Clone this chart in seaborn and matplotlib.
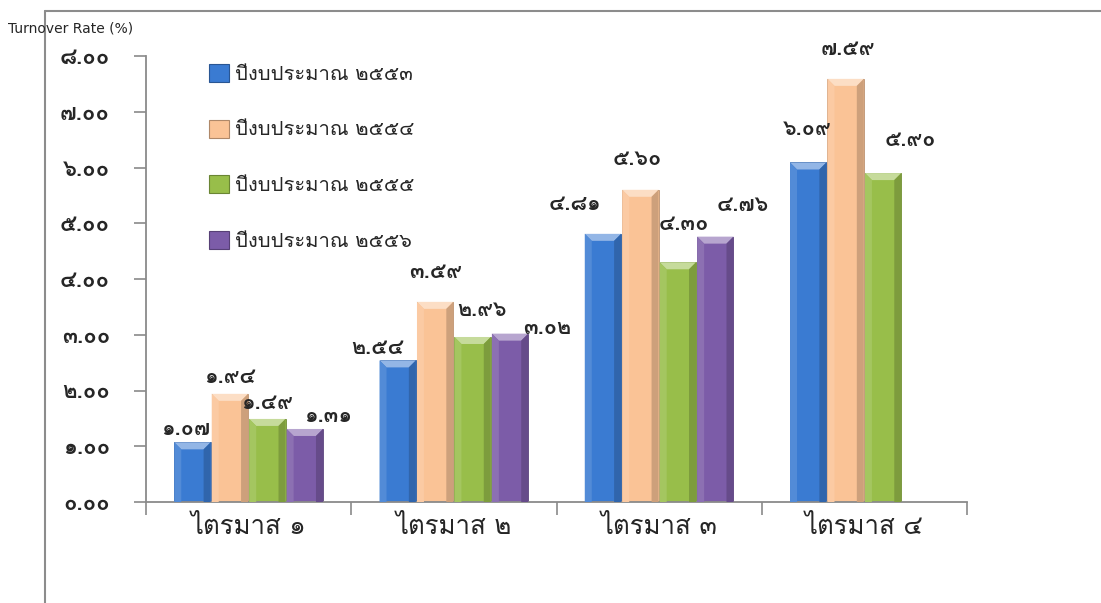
import numpy as np
import pandas as pd
import matplotlib
matplotlib.use("Agg")
import matplotlib.pyplot as plt
import matplotlib.colors as mcolors
import seaborn as sns
from matplotlib import font_manager
from matplotlib.ft2font import FT2Font
from matplotlib.patches import Polygon, Patch
from matplotlib.lines import Line2D

# ---- data -------------------------------------------------------------
quarters = ["ไตรมาส ๑", "ไตรมาส ๒", "ไตรมาส ๓", "ไตรมาส ๔"]
years = ["ปีงบประมาณ ๒๕๕๓", "ปีงบประมาณ ๒๕๕๔", "ปีงบประมาณ ๒๕๕๕", "ปีงบประมาณ ๒๕๕๖"]
rate_2553 = [1.07, 2.54, 4.81, 6.09]
rate_2554 = [1.94, 3.59, 5.60, 7.59]
rate_2555 = [1.49, 2.96, 4.30, 5.90]
rate_2556 = [1.31, 3.02, 4.76, np.nan]
y_ticks = [0, 1, 2, 3, 4, 5, 6, 7, 8]
y_title = "Turnover Rate (%)"

series = [rate_2553, rate_2554, rate_2555, rate_2556]
colors = ["#3A7BD2", "#FAC396", "#98BE4A", "#7C5CA8"]

# label offsets (pixels) from the top-centre of each bar
label_offsets = [
    [(-7, 13), (-20, 12), (-28, 30), (-1, 33)],
    [(0, 17), (0, 30), (-3, 31), (2, 30)],
    [(0, 16), (9, 27), (6, 38), (27, 33)],
    [(23, 13), (37, 6), (27, 32), (0, 0)],
]

THAI_DIGITS = str.maketrans("0123456789", "๐๑๒๓๔๕๖๗๘๙")


def thai_num(v):
    return f"{v:.2f}".translate(THAI_DIGITS)


def thai_font():
    preferred = ["Tahoma", "Leelawadee UI", "Leelawadee", "Loma", "Garuda",
                 "Noto Sans Thai", "Noto Sans Thai UI", "Waree", "Norasi",
                 "Kinnari", "Umpush", "Sawasdee", "Laksaman", "Tlwg Typo"]
    found = set()
    for fe in font_manager.fontManager.ttflist:
        try:
            cmap = FT2Font(fe.fname).get_charmap()
        except Exception:
            continue
        if 0x0E1B in cmap and 0x0E54 in cmap:
            found.add(fe.name)
    for name in preferred:
        if name in found:
            return name
    return sorted(found)[0] if found else None


sns.set_theme(style="white")
tf = thai_font()
families = ([tf] if tf else []) + ["DejaVu Sans"]
plt.rcParams["font.family"] = families

rows = []
for year, vals in zip(years, series):
    for q, v in zip(quarters, vals):
        rows.append({"quarter": q, "year": year, "rate": v})
df = pd.DataFrame(rows)

W, H = 1101, 603
fig = plt.figure(figsize=(W / 100, H / 100), dpi=100)
ax = fig.add_axes([146 / W, 1 - 502 / H, (967 - 146) / W, (502 - 56) / H])

sns.barplot(data=df, x="quarter", y="rate", hue="year", order=quarters,
            hue_order=years, palette=colors, width=0.73, gap=0.03,
            saturation=1, errorbar=None, legend=False, ax=ax)

ax.set_xlim(-0.5, 3.5)
ax.set_ylim(0, 8)
ax.set_xlabel("")
ax.set_ylabel("")

axis_grey = "#8A8A8A"
sns.despine(ax=ax)
for side in ("left", "bottom"):
    ax.spines[side].set_color(axis_grey)
    ax.spines[side].set_linewidth(1.3)

ax.set_yticks(y_ticks)
ax.set_yticklabels([thai_num(v) for v in y_ticks], fontsize=16,
                   fontweight="bold")
ax.tick_params(axis="y", left=True, length=9, width=1.2, color=axis_grey,
               pad=17, direction="out")

ax.set_xticks(np.arange(-0.5, len(quarters), 1.0))
ax.set_xticklabels([])
ax.set_xticks(np.arange(len(quarters)), minor=True)
ax.set_xticklabels(quarters, minor=True, fontsize=18.5)
ax.tick_params(axis="x", which="major", bottom=True, length=9, width=1.2,
               color=axis_grey, direction="out")
ax.tick_params(axis="x", which="minor", bottom=True, length=0, pad=9.5)


def shade(c, f):
    r, g, b = mcolors.to_rgb(c)
    if f >= 0:
        return (r + (1 - r) * f, g + (1 - g) * f, b + (1 - b) * f)
    return (r * (1 + f), g * (1 + f), b * (1 + f))


# bevelled faces on every bar
to_px = ax.transData
px_x = to_px.transform((1, 0))[0] - to_px.transform((0, 0))[0]
px_y = to_px.transform((0, 1))[1] - to_px.transform((0, 0))[1]
bev = 7
bx, by = bev / px_x, bev / px_y

for container, col, offs in zip(ax.containers, colors, label_offsets):
    for bar in container:
        h = bar.get_height()
        if not np.isfinite(h) or h <= 0:
            continue
        x0 = bar.get_x()
        x1 = x0 + bar.get_width()
        bar.set_edgecolor(shade(col, -0.25))
        bar.set_linewidth(0.6)
        ax.add_patch(Polygon([(x0, h), (x1, h), (x1 - bx, h - by), (x0 + bx, h - by)],
                             closed=True, facecolor=shade(col, 0.45), edgecolor="none", zorder=3))
        ax.add_patch(Polygon([(x0, 0), (x0, h), (x0 + bx, h - by), (x0 + bx, 0)],
                             closed=True, facecolor=shade(col, 0.12), edgecolor="none", zorder=3))
        ax.add_patch(Polygon([(x1, 0), (x1, h), (x1 - bx, h - by), (x1 - bx, 0)],
                             closed=True, facecolor=shade(col, -0.18), edgecolor="none", zorder=3))
        qi = int(round(bar.get_x() + bar.get_width() / 2))
        dx, dy = offs[qi]
        ax.annotate(thai_num(h), xy=(x0 + bar.get_width() / 2, h),
                    xytext=(dx, dy), textcoords="offset pixels",
                    ha="center", va="center", fontsize=15.5,
                    fontweight="bold", zorder=5)

handles = [Patch(facecolor=c, edgecolor=shade(c, -0.3), linewidth=0.8) for c in colors]
fig.legend(handles, years, loc="upper left",
           bbox_to_anchor=(209 / W, 1 - 64 / H), frameon=False, fontsize=14.5,
           handlelength=1.0, handleheight=1.0, handletextpad=0.3,
           labelspacing=1.77, borderaxespad=0, borderpad=0)

# outer frame
frame_grey = "#8C8C8C"
fig.add_artist(Line2D([45 / W, 45 / W], [0, 1 - 11 / H], transform=fig.transFigure,
                      color=frame_grey, lw=1.5))
fig.add_artist(Line2D([45 / W, 1], [1 - 11 / H, 1 - 11 / H], transform=fig.transFigure,
                      color=frame_grey, lw=1.5))

fig.text(8 / W, 1 - 28 / H, y_title, fontsize=10, ha="left", va="center",
         family="DejaVu Sans")

fig.savefig("out.png", dpi=100, facecolor="white")
